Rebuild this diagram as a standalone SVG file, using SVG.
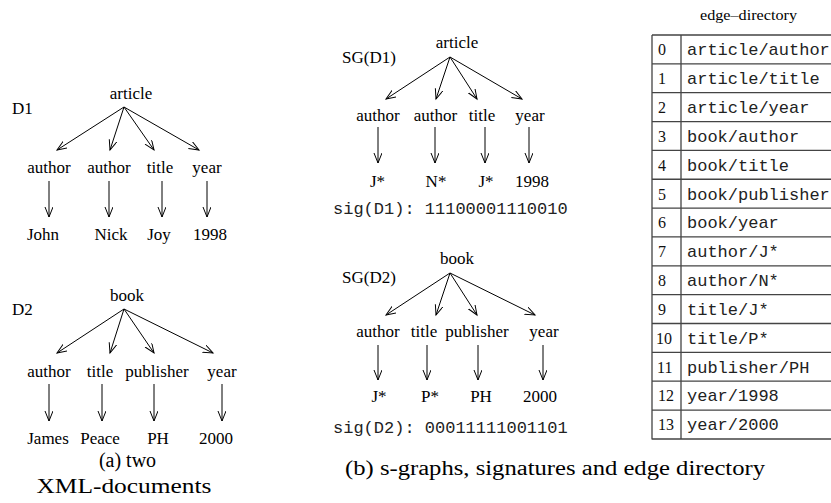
<svg xmlns="http://www.w3.org/2000/svg" width="831" height="503" viewBox="0 0 831 503">
<style>
.t{font-family:"Liberation Serif","Times New Roman","DejaVu Serif",serif;font-size:17px;fill:#000;text-anchor:middle}
.l{font-family:"Liberation Serif","Times New Roman","DejaVu Serif",serif;font-size:17px;fill:#000}
.m{font-family:"Liberation Mono","Courier New",monospace;font-size:17px;fill:#222}
.n{font-family:"Liberation Serif","Times New Roman","DejaVu Serif",serif;font-size:16px;fill:#111}
.cap{font-family:"Liberation Serif","Times New Roman","DejaVu Serif",serif;font-size:20px;fill:#000;text-anchor:middle}
.e{stroke:#000;stroke-width:1;fill:none;marker-end:url(#ah)}
.g{stroke:#444;stroke-width:1.3;fill:none}
</style>
<defs>
<marker id="ah" markerUnits="userSpaceOnUse" markerWidth="12" markerHeight="10" refX="10" refY="4" orient="auto">
<path d="M0,0 L10,4 L0,8" fill="none" stroke="#000" stroke-width="1"/>
</marker>
</defs>
<rect width="831" height="503" fill="#fff"/>

<!-- (a) D1 -->
<g id="d1">
<text class="l" x="12" y="114">D1</text>
<text class="t" x="131" y="99">article</text>
<text class="t" x="49" y="173">author</text>
<text class="t" x="109" y="173">author</text>
<text class="t" x="160" y="173">title</text>
<text class="t" x="207" y="173">year</text>
<text class="t" x="43" y="240">John</text>
<text class="t" x="111" y="240">Nick</text>
<text class="t" x="159" y="240">Joy</text>
<text class="t" x="210" y="240">1998</text>
</g>
<!-- (a) D2 -->
<g id="d2">
<text class="l" x="12" y="315">D2</text>
<text class="t" x="127" y="301">book</text>
<text class="t" x="49" y="377">author</text>
<text class="t" x="100" y="377">title</text>
<text class="t" x="157" y="377">publisher</text>
<text class="t" x="222" y="377">year</text>
<text class="t" x="48" y="444">James</text>
<text class="t" x="100" y="444">Peace</text>
<text class="t" x="158" y="444">PH</text>
<text class="t" x="216" y="444">2000</text>
</g>
<g id="caption-a">
<text class="cap" x="127.5" y="467">(a) two</text>
<text class="cap" x="124" y="493" textLength="175" lengthAdjust="spacingAndGlyphs">XML-documents</text>
</g>

<!-- (b) SG(D1) -->
<g id="sgd1">
<text class="l" x="342" y="63">SG(D1)</text>
<text class="t" x="457" y="48">article</text>
<text class="t" x="378" y="121">author</text>
<text class="t" x="435.5" y="121">author</text>
<text class="t" x="482" y="121">title</text>
<text class="t" x="530" y="121">year</text>
<text class="t" x="377.5" y="187">J*</text>
<text class="t" x="436" y="187">N*</text>
<text class="t" x="486" y="187">J*</text>
<text class="t" x="532" y="187">1998</text>
<text class="m" x="333" y="214">sig(D1): 11100001110010</text>
</g>
<!-- (b) SG(D2) -->
<g id="sgd2">
<text class="l" x="342" y="283">SG(D2)</text>
<text class="t" x="457" y="264">book</text>
<text class="t" x="378" y="337">author</text>
<text class="t" x="424" y="337">title</text>
<text class="t" x="477" y="337">publisher</text>
<text class="t" x="544" y="337">year</text>
<text class="t" x="379" y="402">J*</text>
<text class="t" x="430" y="402">P*</text>
<text class="t" x="481" y="402">PH</text>
<text class="t" x="540" y="402">2000</text>
<text class="m" x="333" y="433">sig(D2): 00011111001101</text>
</g>

<!-- edge directory -->
<g id="edge-directory">
<text class="t" x="748.5" y="20" style="font-size:15px" textLength="97" lengthAdjust="spacingAndGlyphs">edge–directory</text>
<path class="g" d="M652,35 V439.5 M681,35 V439.5 M652,35 H831 M652,63.85 H831 M652,92.7 H831 M652,121.55 H831 M652,150.4 H831 M652,179.25 H831 M652,208.1 H831 M652,236.95 H831 M652,265.8 H831 M652,294.65 H831 M652,323.5 H831 M652,352.35 H831 M652,381.2 H831 M652,410.05 H831 M652,439 H831"/>
<text class="n" x="658" y="55">0</text><text class="m" x="687" y="55">article/author</text>
<text class="n" x="658" y="84">1</text><text class="m" x="687" y="84">article/title</text>
<text class="n" x="658" y="113">2</text><text class="m" x="687" y="113">article/year</text>
<text class="n" x="658" y="141.5">3</text><text class="m" x="687" y="141.5">book/author</text>
<text class="n" x="658" y="170.5">4</text><text class="m" x="687" y="170.5">book/title</text>
<text class="n" x="658" y="199.5">5</text><text class="m" x="687" y="199.5">book/publisher</text>
<text class="n" x="658" y="228">6</text><text class="m" x="687" y="228">book/year</text>
<text class="n" x="658" y="257">7</text><text class="m" x="687" y="257">author/J*</text>
<text class="n" x="658" y="286">8</text><text class="m" x="687" y="286">author/N*</text>
<text class="n" x="658" y="314.5">9</text><text class="m" x="687" y="314.5">title/J*</text>
<text class="n" x="656" y="343.5">10</text><text class="m" x="687" y="343.5">title/P*</text>
<text class="n" x="657" y="372.5">11</text><text class="m" x="687" y="372.5">publisher/PH</text>
<text class="n" x="658" y="401">12</text><text class="m" x="687" y="401">year/1998</text>
<text class="n" x="658" y="430">13</text><text class="m" x="687" y="430">year/2000</text>
</g>
<g id="caption-b">
<text class="cap" x="555" y="475" textLength="420" lengthAdjust="spacingAndGlyphs">(b) s-graphs, signatures and edge directory</text>
</g>

<g id="connectors">
<!-- D1 -->
<line class="e" x1="124" y1="107" x2="57" y2="150"/>
<line class="e" x1="124" y1="107" x2="110" y2="150"/>
<line class="e" x1="124" y1="107" x2="154" y2="150"/>
<line class="e" x1="124" y1="107" x2="199" y2="150"/>
<line class="e" x1="49" y1="181" x2="49" y2="217"/>
<line class="e" x1="109" y1="181" x2="109" y2="217"/>
<line class="e" x1="162" y1="181" x2="162" y2="217"/>
<line class="e" x1="207" y1="181" x2="207" y2="217"/>
<!-- D2 -->
<line class="e" x1="124" y1="309" x2="57" y2="353"/>
<line class="e" x1="124" y1="309" x2="110" y2="353"/>
<line class="e" x1="124" y1="309" x2="154" y2="353"/>
<line class="e" x1="124" y1="309" x2="213" y2="353"/>
<line class="e" x1="49" y1="384" x2="49" y2="421"/>
<line class="e" x1="102" y1="384" x2="102" y2="421"/>
<line class="e" x1="154" y1="384" x2="154" y2="421"/>
<line class="e" x1="222" y1="384" x2="222" y2="421"/>
<!-- SG(D1) -->
<line class="e" x1="450" y1="57" x2="386" y2="99"/>
<line class="e" x1="450" y1="57" x2="436" y2="99"/>
<line class="e" x1="450" y1="57" x2="477" y2="99"/>
<line class="e" x1="450" y1="57" x2="522" y2="99"/>
<line class="e" x1="378" y1="127" x2="378" y2="163"/>
<line class="e" x1="435" y1="127" x2="435" y2="163"/>
<line class="e" x1="485" y1="127" x2="485" y2="163"/>
<line class="e" x1="529" y1="127" x2="529" y2="163"/>
<!-- SG(D2) -->
<line class="e" x1="450" y1="273" x2="386" y2="315"/>
<line class="e" x1="450" y1="273" x2="436" y2="315"/>
<line class="e" x1="450" y1="273" x2="477" y2="315"/>
<line class="e" x1="450" y1="273" x2="535" y2="315"/>
<line class="e" x1="378" y1="345" x2="378" y2="380"/>
<line class="e" x1="427" y1="345" x2="427" y2="380"/>
<line class="e" x1="478" y1="345" x2="478" y2="380"/>
<line class="e" x1="543" y1="345" x2="543" y2="380"/>
</g>
</svg>
